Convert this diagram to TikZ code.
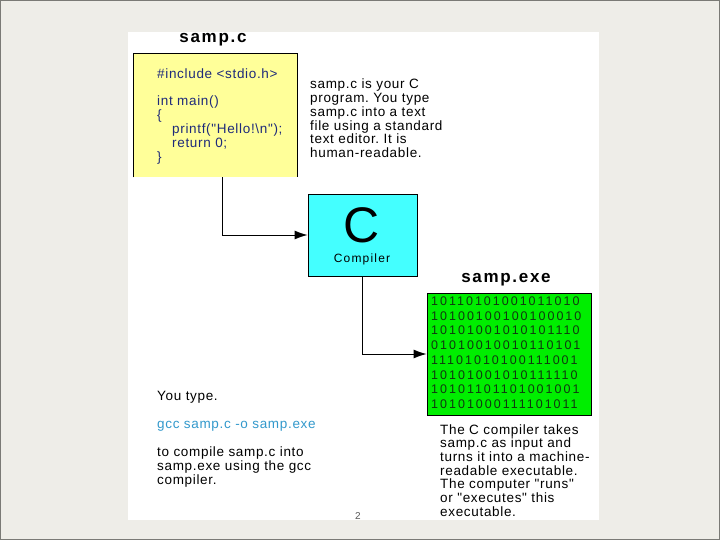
\documentclass[tikz,border=0pt]{standalone}
\usepackage{fontspec}
\newfontfamily\lsf{Liberation Sans}[LetterSpace=5]
\newfontfamily\lsh{Liberation Sans}[LetterSpace=10]
\newfontfamily\lsd{Liberation Sans}[LetterSpace=16]
\usetikzlibrary{arrows.meta,calc}
\definecolor{bg}{HTML}{EEEDE8}
\definecolor{frame}{HTML}{7A7A76}
\definecolor{yel}{HTML}{FFFF99}
\definecolor{cyn}{HTML}{44FFFF}
\definecolor{grn}{HTML}{00EE00}
\definecolor{codeblue}{HTML}{1E2A7A}
\definecolor{gccblue}{HTML}{3399CC}
\definecolor{bits}{HTML}{103810}
\frenchspacing
\begin{document}
\begin{tikzpicture}[x=1pt,y=-1pt,
  box/.style={draw=black,line width=0.9pt,inner sep=0pt,anchor=center},
  txt/.style={anchor=base west,inner sep=0pt,font=\lsf\fontsize{13.5}{15}\selectfont},
  title/.style={anchor=base,inner sep=0pt,font=\lsh\bfseries\fontsize{17}{20}\selectfont},
  conn/.style={draw=black,line width=0.9pt,-{Latex[length=13pt,width=9pt]}}]
\useasboundingbox (0,0) rectangle (720,540);
\fill[bg] (0,0) rectangle (720,540);
\draw[frame,line width=1.5pt] (0,0) rectangle (720,540);
\fill[white] (128,32) rectangle (599,520);
% source box (no bottom border)
\node[box,draw=none,fill=yel,minimum width=163pt,minimum height=123pt] (src) at (215.5,115.5) {};
\draw[line width=0.9pt] (src.south west) |- (src.north east) -- (src.south east);
\node[title] (t1) at (213,43) {samp.c};
\begin{scope}[every node/.style={txt,text=codeblue}]
\node (c1) at (157,79) {\#include <stdio.h>};
\node (c2) at (157,106) {int main()};
\node (c3) at (157,120) {\{};
\node (c4) at (172,134) {printf("Hello!\textbackslash n");};
\node (c5) at (172,148) {return 0;};
\node (c6) at (157,162) {\}};
\end{scope}
\foreach \t [count=\i] in {samp.c is your C,program. You type,samp.c into a text,file using a standard,text editor. It is,human-readable.}
  \node[txt] (r\i) at (310,{89+13.7*(\i-1)}) {\t};
% compiler
\node[box,fill=cyn,minimum width=109pt,minimum height=82pt] (comp) at (362.5,235) {};
\node[anchor=base,inner sep=0pt,text depth=0pt,font=\lsf\fontsize{50}{54}\selectfont] (bigc) at (362,242) {C};
\node[anchor=base,inner sep=0pt,font=\lsh\fontsize{12}{14}\selectfont] (cl) at (362,262) {Compiler};
% executable
\node[box,fill=grn,minimum width=164pt,minimum height=122pt] (exe) at (509,354) {};
\node[title] (t2) at (506,282) {samp.exe};
\foreach \t [count=\i] in {10110101001011010,10100100100100010,10101001010101110,01010010010110101,11101010100111001,10101001010111110,10101101101001001,10101000111101011}
  \node[anchor=base west,inner sep=0pt,text=bits,font=\lsd\fontsize{12.5}{14}\selectfont] (b\i) at (431,{305.5+14.71*(\i-1)}) {\t};
% connectors
\draw[conn] ($(src.south west)!0.54!(src.south east)$) |- (comp.west);
\draw[conn] (comp.south) |- (exe.west);
% bottom texts
\node[txt] (y1) at (157,400) {You type.};
\node[txt,text=gccblue] (y2) at (157,428) {gcc samp.c -o samp.exe};
\node[txt] (y3) at (157,456) {to compile samp.c into};
\node[txt] (y4) at (157,470) {samp.exe using the gcc};
\node[txt] (y5) at (157,484) {compiler.};
\foreach \t [count=\i] in {The C compiler takes,samp.c as input and,turns it into a machine-,readable executable.,The computer "runs",or "executes" this,executable.}
  \node[txt] (e\i) at (440,{434+13.7*(\i-1)}) {\t};
\node[anchor=base,inner sep=0pt,text=gray!70!black,font=\lsf\fontsize{10}{12}\selectfont] (pg) at (358,519) {2};
\end{tikzpicture}
\end{document}
